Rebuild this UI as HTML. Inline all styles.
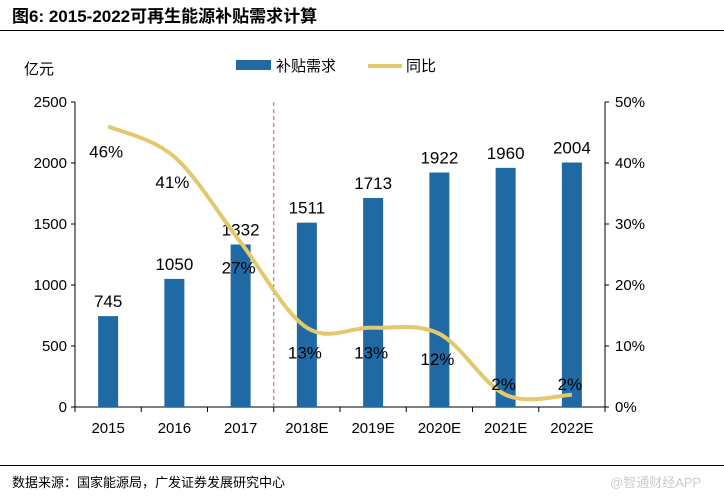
<!DOCTYPE html>
<html><head><meta charset="utf-8"><style>
body{margin:0;background:#fff;}
svg text{font-family:"Liberation Sans","Noto Sans CJK SC",sans-serif;}
</style></head><body>
<svg width="724" height="497" viewBox="0 0 724 497">
<text x="12" y="22" font-size="17" font-weight="bold" fill="#000">图6: 2015-2022可再生能源补贴需求计算</text>
<line x1="0" y1="30.5" x2="724" y2="30.5" stroke="#000" stroke-width="1"/>
<text x="24" y="74" font-size="15">亿元</text>
<g>
<rect x="236" y="60" width="35" height="10" fill="#1f6aa5"/>
<text x="276" y="71" font-size="15">补贴需求</text>
<line x1="368" y1="66" x2="402" y2="66" stroke="#e3c86e" stroke-width="4"/>
<text x="406" y="71" font-size="15">同比</text>
</g>
<g id="plot"></g>
<line x1="0" y1="465.5" x2="724" y2="465.5" stroke="#000" stroke-width="1"/>
<text x="12" y="487" font-size="13">数据来源：国家能源局，广发证券发展研究中心</text>
<text x="610" y="487" font-size="13" fill="#ccc">@智通财经APP</text>
</svg>
<script>
const categories=["2015","2016","2017","2018E","2019E","2020E","2021E","2022E"];
const subsidy=[745,1050,1332,1511,1713,1922,1960,2004];
const growth=[46,41,27,13,13,12,2,2];
const leftTicks=[0,500,1000,1500,2000,2500];
const rightTicks=[0,10,20,30,40,50];
const NS="http://www.w3.org/2000/svg";
const g=document.getElementById('plot');
const X0=75,X1=605,Y0=407,Y1=102;
const bw=(X1-X0)/categories.length;
const xc=i=>X0+bw*(i+0.5);
const yL=v=>Y0-(v/2500)*(Y0-Y1);
const yR=v=>Y0-(v/50)*(Y0-Y1);
function mk(t,a){const e=document.createElementNS(NS,t);for(const k in a)e.setAttribute(k,a[k]);g.appendChild(e);return e;}
let e=mk('line',{x1:X0,y1:Y1,x2:X0,y2:Y0,stroke:'#000'});


e=mk('line',{x1:X1,y1:Y1,x2:X1,y2:Y0,stroke:'#000'});


e=mk('line',{x1:X0,y1:Y0,x2:X1,y2:Y0,stroke:'#000'});


leftTicks.forEach(v=>{const y=yL(v);
 mk('line',{x1:X0-4,y1:y,x2:X0,y2:y,stroke:'#000'});
 const t=mk('text',{x:X0-8,y:y+5,'font-size':15,'text-anchor':'end'});t.textContent=v;
 
 });
rightTicks.forEach(v=>{const y=yR(v);
 mk('line',{x1:X1,y1:y,x2:X1+4,y2:y,stroke:'#000'});
 const t=mk('text',{x:X1+10,y:y+5,'font-size':15});t.textContent=v+'%';
 
 });
for(let i=0;i<=categories.length;i++){mk('line',{x1:X0+bw*i,y1:Y0,x2:X0+bw*i,y2:Y0+5,stroke:'#000'});}
categories.forEach((c,i)=>{const t=mk('text',{x:xc(i),y:Y0+26,'font-size':15,'text-anchor':'middle'});t.textContent=c;
 
 });
e=mk('line',{x1:X0+bw*3,y1:Y1,x2:X0+bw*3,y2:Y0,stroke:'#e05050','stroke-dasharray':'4,3'});


subsidy.forEach((v,i)=>{const b=mk('rect',{x:xc(i)-10,y:yL(v),width:20,height:Y0-yL(v),fill:'#1f6aa5'});
 
 
 const t=mk('text',{x:xc(i),y:yL(v)-9,'font-size':17,'text-anchor':'middle'});t.textContent=v;
 
 });
const pts=growth.map((v,i)=>[xc(i),yR(v)]);
let d='M'+pts[0][0]+','+pts[0][1];
for(let i=0;i<pts.length-1;i++){const p0=pts[i-1]||pts[i],p1=pts[i],p2=pts[i+1],p3=pts[i+2]||p2;
 d+=` C${p1[0]+(p2[0]-p0[0])/6},${p1[1]+(p2[1]-p0[1])/6} ${p2[0]-(p3[0]-p1[0])/6},${p2[1]-(p3[1]-p1[1])/6} ${p2[0]},${p2[1]}`;}
e=mk('path',{d:d,fill:'none',stroke:'#e3c86e','stroke-width':4});


growth.forEach((v,i)=>{const off=v<5?-5:31;const t=mk('text',{x:xc(i)-2,y:yR(v)+off,'font-size':17,'text-anchor':'middle'});t.textContent=v+'%';
 
 });
</script>
</body></html>
